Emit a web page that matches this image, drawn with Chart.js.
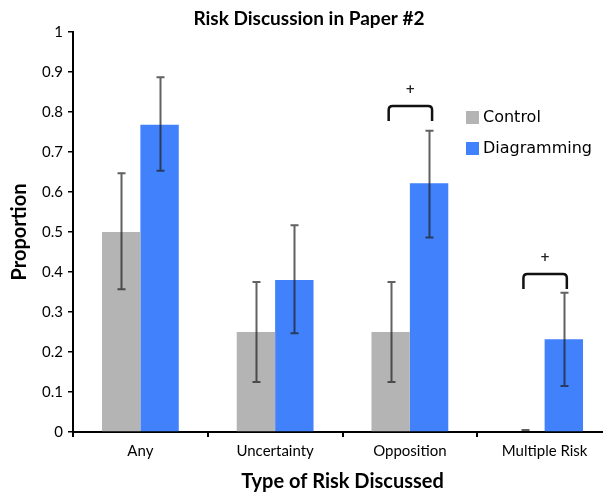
<!DOCTYPE HTML>
<html>
<head>
    <title>Risk Discussion in Paper #2</title>
    <meta charset="utf-8" />
    <script src="https://cdn.jsdelivr.net/npm/chart.js"></script>
    <style>
        html, body { margin: 0; padding: 0; background: #fff; overflow: hidden; }
        #wrap { width: 603px; height: 498px; overflow: hidden; }
    </style>
</head>
<body>
    <div id="wrap">
        <canvas id="graficoRiesgo" width="612" height="498"></canvas>
    </div>

    <script>
        // Datos
        var categorias = ['Any', 'Uncertainty', 'Opposition', 'Multiple Risk'];
        var control = [0.5, 0.25, 0.25, 0];
        var controlLow = [0.357, 0.125, 0.125, 0];
        var controlHigh = [0.647, 0.375, 0.375, 0];
        var diagramming = [0.768, 0.38, 0.622, 0.232];
        var diagLow = [0.653, 0.247, 0.486, 0.115];
        var diagHigh = [0.887, 0.517, 0.753, 0.348];
        var yTickLabels = ['0', '0.1', '0.2', '0.3', '0.4', '0.5', '0.6', '0.7', '0.8', '0.9', '1'];
        // corchetes de significancia (+): nivel superior por categoria
        var sigTop = [null, null, 0.815, 0.395];

        var colorControl = '#b4b4b4';
        var colorDiag = '#4181fb';

        // Barras de error
        var errorBars = {
            id: 'errorBars',
            afterDatasetsDraw: function (chart) {
                var ctx = chart.ctx;
                var y = chart.scales.y;
                var rangos = [[controlLow, controlHigh], [diagLow, diagHigh]];
                ctx.save();
                ctx.strokeStyle = 'rgba(30, 30, 30, 0.7)';
                ctx.lineWidth = 2;
                rangos.forEach(function (r, d) {
                    var meta = chart.getDatasetMeta(d);
                    meta.data.forEach(function (bar, i) {
                        var x = Math.round(bar.x) + 0.5;
                        var yl = y.getPixelForValue(r[0][i]);
                        var yh = y.getPixelForValue(r[1][i]);
                        if (r[1][i] === 0) { yl -= 2; yh -= 2; } // guion sobre el eje
                        ctx.beginPath();
                        ctx.moveTo(x, yl);
                        ctx.lineTo(x, yh);
                        ctx.moveTo(x - 4, yl);
                        ctx.lineTo(x + 4, yl);
                        ctx.moveTo(x - 4, yh);
                        ctx.lineTo(x + 4, yh);
                        ctx.stroke();
                    });
                });
                ctx.restore();
            }
        };

        // Corchetes, titulo y leyenda
        var extras = {
            id: 'extras',
            afterDraw: function (chart) {
                var ctx = chart.ctx;
                var y = chart.scales.y;
                ctx.save();

                // corchetes
                sigTop.forEach(function (v, i) {
                    if (v === null) return;
                    var x1 = chart.getDatasetMeta(0).data[i].x - 2;
                    var x2 = chart.getDatasetMeta(1).data[i].x + 3;
                    var yt = y.getPixelForValue(v);
                    var r = 4;
                    ctx.strokeStyle = '#111';
                    ctx.lineWidth = 2.5;
                    ctx.beginPath();
                    ctx.moveTo(x1, yt + 15);
                    ctx.lineTo(x1, yt + r);
                    ctx.quadraticCurveTo(x1, yt, x1 + r, yt);
                    ctx.lineTo(x2 - r, yt);
                    ctx.quadraticCurveTo(x2, yt, x2, yt + r);
                    ctx.lineTo(x2, yt + 15);
                    ctx.stroke();
                    ctx.fillStyle = '#222';
                    ctx.font = 'bold 12px "DejaVu Sans"';
                    ctx.textAlign = 'center';
                    ctx.textBaseline = 'middle';
                    ctx.fillText('+', (x1 + x2) / 2, yt - 16);
                });

                // titulo
                ctx.fillStyle = '#000';
                ctx.font = 'bold 19px Lato';
                ctx.textAlign = 'center';
                ctx.textBaseline = 'middle';
                ctx.fillText('Risk Discussion in Paper #2', 309, 19);

                // leyenda
                ctx.font = '16px "DejaVu Sans"';
                ctx.textAlign = 'left';
                ctx.fillStyle = colorControl;
                ctx.fillRect(466, 111, 13, 13);
                ctx.fillStyle = colorDiag;
                ctx.fillRect(466, 142, 13, 13);
                ctx.fillStyle = '#000';
                ctx.fillText('Control', 483, 118);
                ctx.fillText('Diagramming', 483, 149);
                ctx.restore();
            }
        };

        var ctx1 = document.getElementById('graficoRiesgo').getContext('2d');
        var myChart = new Chart(ctx1, {
            type: 'bar',
            data: {
                labels: categorias,
                datasets: [
                    {
                        label: 'Control',
                        data: control,
                        backgroundColor: colorControl,
                        borderWidth: 0
                    },
                    {
                        label: 'Diagramming',
                        data: diagramming,
                        backgroundColor: colorDiag,
                        borderWidth: 0
                    }
                ]
            },
            options: {
                responsive: false,
                animation: false,
                devicePixelRatio: 1,
                barPercentage: 1,
                categoryPercentage: 0.57,
                layout: { padding: { top: 32, left: 0, right: 0, bottom: 0 } },
                plugins: {
                    legend: { display: false },
                    title: { display: false },
                    tooltip: { enabled: false }
                },
                scales: {
                    x: {
                        afterFit: function (s) { s.height = 66; },
                        border: { color: '#000', width: 2 },
                        grid: { display: true, drawOnChartArea: false, drawTicks: true, tickLength: 5, color: '#000', lineWidth: 2 },
                        ticks: { color: '#000', font: { family: 'Lato', size: 15 }, padding: 5 },
                        title: {
                            display: true,
                            text: 'Type of Risk Discussed',
                            color: '#000',
                            font: { family: 'Lato', size: 20, weight: 'bold' },
                            padding: { top: 0, bottom: 4 }
                        }
                    },
                    y: {
                        min: 0,
                        max: 1,
                        afterFit: function (s) { s.width = 73; },
                        border: { color: '#000', width: 2 },
                        grid: { display: true, drawOnChartArea: false, drawTicks: true, tickLength: 5, color: '#000', lineWidth: 1.5 },
                        ticks: {
                            stepSize: 0.1,
                            color: '#000',
                            font: { family: 'Lato', size: 15 },
                            padding: 5,
                            callback: function (v, i) { return yTickLabels[i]; }
                        },
                        title: {
                            display: true,
                            text: 'Proportion',
                            color: '#000',
                            font: { family: 'Lato', size: 20, weight: 'bold' },
                            padding: { top: 8, bottom: 0 }
                        }
                    }
                }
            },
            plugins: [errorBars, extras]
        });
    </script>
</body>
</html>
